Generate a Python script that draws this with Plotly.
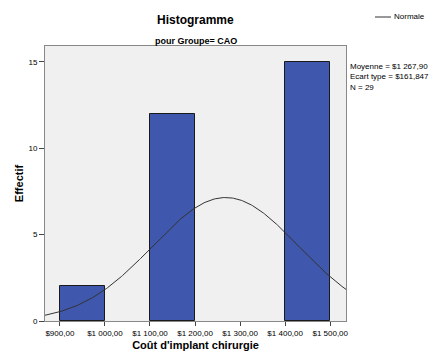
import numpy as np
import plotly.graph_objects as go

bin_starts = [900, 1000, 1100, 1200, 1300, 1400]
counts = [2, 0, 12, 0, 0, 15]
bin_width = 100
mean_val = 1267.90
sd_val = 161.847
n_val = 29
tick_vals = [900, 1000, 1100, 1200, 1300, 1400, 1500]
tick_text = ["$900,00", "$1 000,00", "$1 100,00", "$1 200,00", "$1 300,00", "$1 400,00", "$1 500,00"]

x_min, x_max = 867, 1535
xs = np.linspace(x_min, x_max, 300)
ys = n_val * bin_width / (sd_val * np.sqrt(2 * np.pi)) * np.exp(-0.5 * ((xs - mean_val) / sd_val) ** 2)

bar_x = [s + bin_width / 2 for s, c in zip(bin_starts, counts) if c > 0]
bar_y = [c for c in counts if c > 0]

fig = go.Figure()
fig.add_trace(go.Bar(
    x=bar_x, y=bar_y, width=bin_width,
    marker=dict(color="#3F57AD", line=dict(color="#1a1a1a", width=1)),
    showlegend=False, hoverinfo="skip"))
fig.add_trace(go.Scatter(x=xs, y=ys, mode="lines", name="Normale",
                         line=dict(color="#333333", width=1), showlegend=False))

fig.update_layout(
    width=430, height=351,
    margin=dict(l=45, r=84, t=46, b=30, autoexpand=False),
    paper_bgcolor="white", plot_bgcolor="#F0F0F0",
    font=dict(family="Liberation Sans, Arial", color="#000000"),
    bargap=0,
    showlegend=False,
    shapes=[dict(type="line", xref="paper", yref="paper",
                 x0=(375 - 45) / 301, x1=(391 - 45) / 301,
                 y0=(321 - 17) / 275, y1=(321 - 17) / 275,
                 line=dict(color="#333333", width=1))],
    annotations=[
        dict(text="Normale", x=(392 - 45) / 301, y=(321 - 17) / 275, xref="paper", yref="paper",
             showarrow=False, xanchor="left", yanchor="middle", font=dict(size=8)),
        dict(text="<b>Histogramme</b>", x=0.5, y=1.0, xref="paper", yref="paper",
             yshift=26, showarrow=False, font=dict(size=12), xanchor="center", yanchor="middle"),
        dict(text="<b>pour Groupe= CAO</b>", x=0.5, y=1.0, xref="paper", yref="paper",
             yshift=5, showarrow=False, font=dict(size=9), xanchor="center", yanchor="middle"),
        dict(text="Moyenne = $1 267,90<br>Ecart type = $161,847<br>N = 29",
             x=1.0, y=1.0, xref="paper", yref="paper", xshift=2, yshift=-14,
             showarrow=False, align="left", xanchor="left", yanchor="top",
             font=dict(size=8)),
    ],
)
fig.update_xaxes(range=[x_min, x_max], tickvals=tick_vals, ticktext=tick_text,
                 tickfont=dict(size=8), ticks="outside", ticklen=4, tickcolor="#444",
                 showgrid=False, zeroline=False, showline=True, linecolor="#888",
                 mirror=True,
                 title=dict(text="<b>Coût d'implant chirurgie</b>", font=dict(size=11), standoff=4))
fig.update_yaxes(range=[0, 15.92], tickvals=[0, 5, 10, 15],
                 tickfont=dict(size=8), ticks="outside", ticklen=5, tickcolor="#444",
                 showgrid=False, zeroline=False, showline=True, linecolor="#888",
                 mirror=True,
                 title=dict(text="<b>Effectif</b>", font=dict(size=11), standoff=2))
fig.write_html("out.html", config={"displayModeBar": False},
               post_script="document.body.style.margin='0';document.body.style.overflow='hidden';")
